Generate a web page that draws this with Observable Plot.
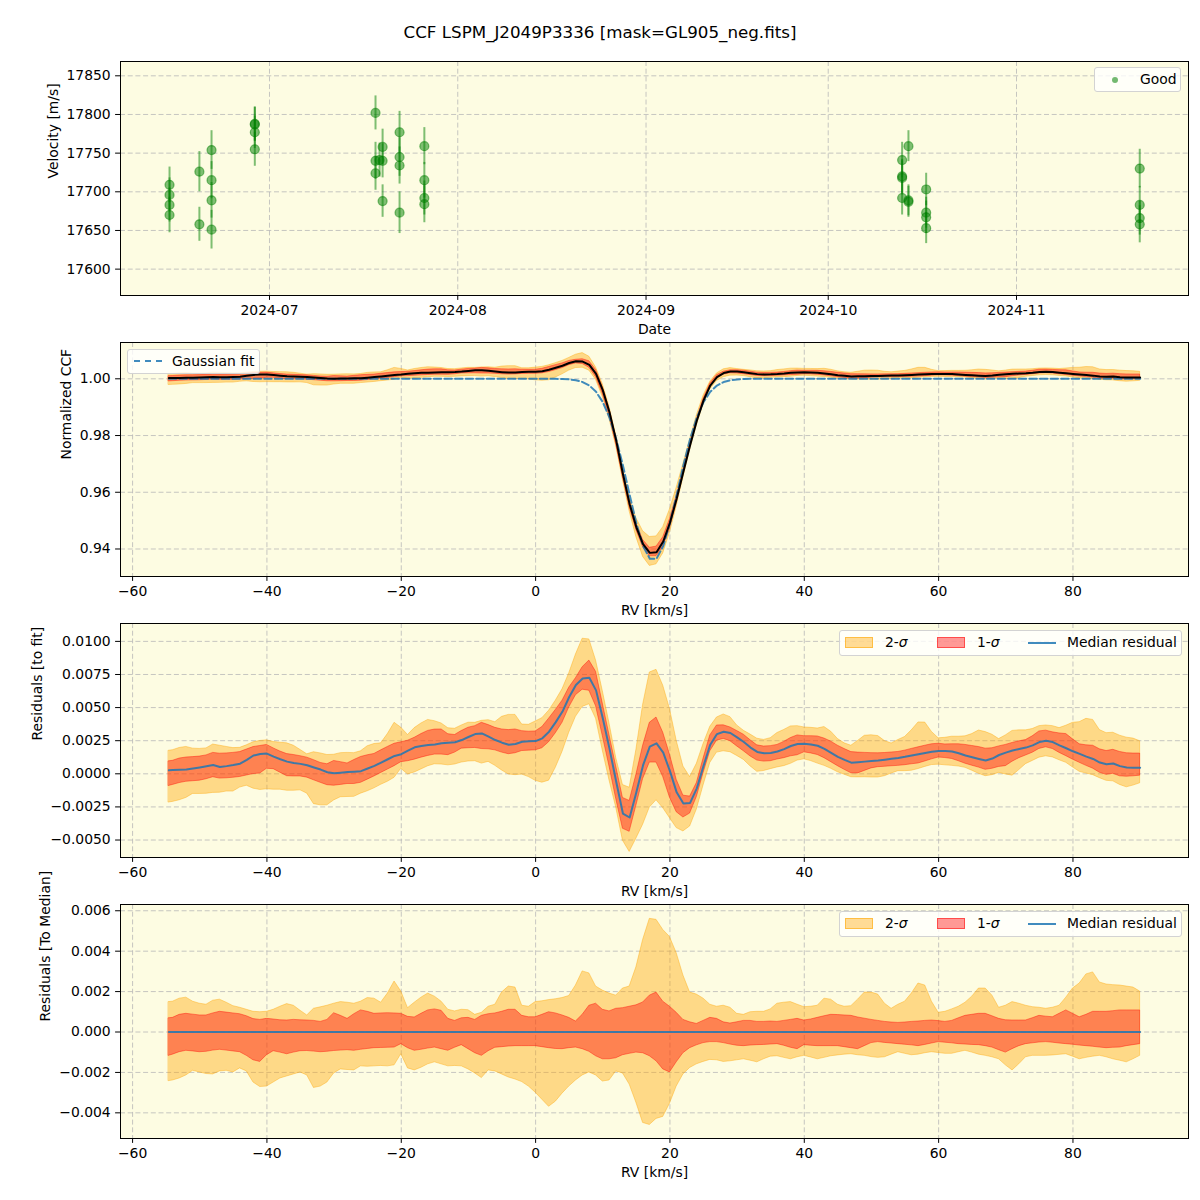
<!DOCTYPE html>
<html><head><meta charset="utf-8">
<script src="https://cdn.jsdelivr.net/npm/d3@7"></script>
<script src="https://cdn.jsdelivr.net/npm/@observablehq/plot@0.6"></script>
<style>
body{margin:0;background:#fff;font-family:"DejaVu Sans",sans-serif;}
#fig{position:relative;width:1200px;height:1200px;overflow:hidden;}
.panel{position:absolute;left:0;}
.title{position:absolute;top:21px;left:0;width:1200px;text-align:center;font-size:16.7px;line-height:22px;color:#000;}
.legend{position:absolute;background:rgba(255,255,255,0.8);border:1px solid #d3d3d3;border-radius:3px;box-sizing:border-box;font-size:13.9px;color:#000;}
.item{position:absolute;white-space:nowrap;line-height:16px;}
.patch{position:absolute;box-sizing:border-box;}
</style></head>
<body><div id="fig"><div class="title">CCF LSPM_J2049P3336 [mask=GL905_neg.fits]</div></div>
<script>
// ---------------- data: velocity time series ----------------
const obsDate = [
"2024-06-14T13:00Z","2024-06-14T13:00Z","2024-06-14T13:00Z","2024-06-14T13:00Z",
"2024-06-19T11:00Z","2024-06-19T11:00Z",
"2024-06-21T11:00Z","2024-06-21T11:00Z","2024-06-21T11:00Z","2024-06-21T11:00Z",
"2024-06-28T14:00Z","2024-06-28T14:00Z","2024-06-28T14:00Z","2024-06-28T14:00Z",
"2024-07-18T11:00Z","2024-07-18T11:00Z","2024-07-18T11:00Z",
"2024-07-19T03:00Z",
"2024-07-19T15:00Z","2024-07-19T15:00Z","2024-07-19T15:00Z",
"2024-07-22T10:00Z","2024-07-22T10:00Z","2024-07-22T10:00Z","2024-07-22T10:00Z",
"2024-07-26T12:00Z","2024-07-26T12:00Z","2024-07-26T12:00Z","2024-07-26T12:00Z",
"2024-10-13T04:00Z","2024-10-13T04:00Z","2024-10-13T04:00Z","2024-10-13T04:00Z",
"2024-10-14T05:00Z","2024-10-14T05:00Z","2024-10-14T05:00Z",
"2024-10-17T03:00Z","2024-10-17T03:00Z","2024-10-17T03:00Z","2024-10-17T03:00Z",
"2024-11-21T07:00Z","2024-11-21T07:00Z","2024-11-21T07:00Z","2024-11-21T07:00Z"];
const velocity = [17709,17696,17683,17670, 17726,17658, 17754,17715,17689,17651,
  17788,17787,17777,17755, 17802,17740,17724, 17741, 17758,17740,17688,
  17777,17745,17734,17673, 17759,17715,17692,17684, 17741,17720,17718,17692,
  17759,17689,17687, 17703,17673,17667,17653, 17730,17683,17666,17658];
const velocityErr = [23,22,22,23, 26,22, 25,24,23,25, 22,22,21,22, 22,24,22, 22, 23,22,21,
  27,25,24,27, 24,23,22,24, 23,22,22,22, 20,20,20, 21,20,21,20, 25,24,22,24];
const dateTicks = ["2024-07-01","2024-08-01","2024-09-01","2024-10-01","2024-11-01"];
const dateDomain = ["2024-06-06T11:15Z","2024-11-29T07:40Z"];
const velTicks = [17600,17650,17700,17750,17800,17850];

// ---------------- data: CCF profile (RV grid, km/s) ----------------
const rv = [-54.6,
-54,-53,-52,-51,-50,-49,-48,-47,-46,-45,
-44,-43,-42,-41,-40,-39,-38,-37,-36,-35,
-34,-33,-32,-31,-30,-29,-28,-27,-26,-25,
-24,-23,-22,-21,-20,-19,-18,-17,-16,-15,
-14,-13,-12,-11,-10,-9,-8,-7,-6,-5,
-4,-3,-2,-1,0,1,2,3,4,5,
6,7,8,9,10,11,12,13,14,15,
16,17,18,19,20,21,22,23,24,25,
26,27,28,29,30,31,32,33,34,35,
36,37,38,39,40,41,42,43,44,45,
46,47,48,49,50,51,52,53,54,55,
56,57,58,59,60,61,62,63,64,65,
66,67,68,69,70,71,72,73,74,75,
76,77,78,79,80,81,82,83,84,85,
86,87,88,89,90];
// Gaussian fit of the CCF
const gaussFit = [1,
1,1,1,1,1,1,1,1,1,1,
1,1,1,1,1,1,1,1,1,1,
1,1,1,1,1,1,1,1,1,1,
1,1,1,1,1,1,1,1,1,1,
1,1,1,1,1,1,1,1,1,1,
1,1,1,1,1,1,1,1,.99992,.99979,
.99949,.99886,.99763,.99543,.99180,.98632,.97880,.96945,.95908,.94906,
.94105,.93658,.93658,.94105,.94906,.95908,.96945,.97880,.98632,.99180,
.99543,.99763,.99886,.99949,.99979,.99992,1,1,1,1,
1,1,1,1,1,1,1,1,1,1,
1,1,1,1,1,1,1,1,1,1,
1,1,1,1,1,1,1,1,1,1,
1,1,1,1,1,1,1,1,1,1,
1,1,1,1,1,1,1,1,1,1,
1,1,1,1,1];
// median residual (CCF - fit)
const medianResid = [.00026,
.00028,.00030,.00033,.00040,.00048,.00057,.00066,.00052,.00058,.00066,
.00076,.00105,.00138,.00150,.00153,.00130,.00110,.00092,.00082,.00075,
.00065,.00048,.00032,.00012,.00004,.00008,.00013,.00016,.00020,.00040,
.00060,.00085,.00110,.00135,.00148,.00175,.00200,.00210,.00217,.00222,
.00230,.00234,.00238,.00255,.00278,.00300,.00305,.00280,.00255,.00235,
.00220,.00225,.00242,.00245,.00247,.00268,.00318,.00390,.00470,.00580,
.00670,.00720,.00725,.00630,.00420,.00190,-.00060,-.00300,-.00330,-.00140,
.00065,.00205,.00230,.00160,.00020,-.00140,-.00225,-.00220,-.00110,.00060,
.00220,.00300,.00318,.00308,.00275,.00240,.00198,.00165,.00156,.00157,
.00168,.00186,.00210,.00225,.00227,.00222,.00212,.00188,.00158,.00128,
.00105,.00084,.00088,.00092,.00096,.00100,.00107,.00114,.00120,.00128,
.00138,.00148,.00157,.00166,.00173,.00172,.00168,.00155,.00138,.00125,
.00112,.00100,.00115,.00142,.00160,.00176,.00188,.00198,.00215,.00240,
.00250,.00240,.00215,.00193,.00170,.00150,.00130,.00112,.00085,.00072,
.00078,.00058,.00048,.00046,.00046];
// band edges relative to the median residual
const upper2 = [.00148,
.00150,.00165,.00170,.00150,.00140,.00135,.00155,.00160,.00145,.00128,
.00120,.00110,.00100,.00098,.00100,.00110,.00125,.00138,.00130,.00105,
.00082,.00115,.00122,.00130,.00140,.00148,.00145,.00140,.00150,.00168,
.00165,.00145,.00190,.00250,.00200,.00118,.00145,.00170,.00190,.00175,
.00150,.00110,.00102,.00110,.00108,.00085,.00095,.00125,.00135,.00195,
.00225,.00220,.00130,.00125,.00148,.00152,.00158,.00162,.00168,.00178,
.00230,.00300,.00290,.00225,.00205,.00190,.00180,.00215,.00225,.00320,
.00455,.00560,.00555,.00505,.00470,.00390,.00280,.00195,.00185,.00165,
.00135,.00125,.00130,.00120,.00090,.00085,.00098,.00100,.00100,.00112,
.00140,.00145,.00148,.00135,.00123,.00125,.00130,.00165,.00160,.00135,
.00125,.00128,.00160,.00195,.00195,.00185,.00140,.00115,.00135,.00150,
.00190,.00240,.00230,.00150,.00095,.00100,.00112,.00125,.00145,.00175,
.00215,.00215,.00180,.00120,.00130,.00148,.00140,.00130,.00123,.00120,
.00115,.00120,.00130,.00170,.00215,.00240,.00285,.00295,.00245,.00235,
.00232,.00230,.00225,.00220,.00200];
const upper1 = [.00068,
.00070,.00085,.00090,.00086,.00082,.00082,.00092,.00100,.00096,.00092,
.00088,.00078,.00064,.00060,.00065,.00062,.00058,.00057,.00060,.00058,
.00057,.00055,.00050,.00060,.00093,.00080,.00065,.00088,.00107,.00100,
.00090,.00092,.00093,.00092,.00090,.00075,.00072,.00090,.00107,.00112,
.00105,.00065,.00055,.00068,.00070,.00060,.00080,.00088,.00092,.00100,
.00110,.00110,.00080,.00073,.00073,.00085,.00098,.00092,.00082,.00070,
.00052,.00085,.00130,.00140,.00110,.00102,.00115,.00118,.00125,.00132,
.00146,.00180,.00195,.00150,.00125,.00095,.00060,.00048,.00040,.00055,
.00070,.00065,.00048,.00042,.00048,.00055,.00055,.00050,.00050,.00052,
.00050,.00055,.00060,.00065,.00057,.00062,.00070,.00078,.00085,.00084,
.00082,.00080,.00072,.00066,.00060,.00055,.00050,.00047,.00045,.00047,
.00050,.00052,.00055,.00057,.00054,.00050,.00055,.00068,.00080,.00085,
.00090,.00090,.00078,.00065,.00058,.00057,.00057,.00057,.00068,.00080,
.00076,.00073,.00090,.00107,.00090,.00073,.00085,.00100,.00100,.00100,
.00103,.00107,.00107,.00107,.00107];
const lower1 = [-.00118,
-.00112,-.00100,-.00093,-.00096,-.00100,-.00098,-.00092,-.00088,-.00092,-.00096,
-.00100,-.00118,-.00140,-.00148,-.00115,-.00095,-.00102,-.00110,-.00102,-.00095,
-.00094,-.00097,-.00100,-.00098,-.00094,-.00092,-.00090,-.00093,-.00088,-.00084,
-.00080,-.00079,-.00078,-.00077,-.00060,-.00080,-.00093,-.00088,-.00082,-.00077,
-.00085,-.00093,-.00078,-.00065,-.00085,-.00105,-.00118,-.00095,-.00078,-.00075,
-.00072,-.00070,-.00070,-.00070,-.00070,-.00075,-.00080,-.00084,-.00085,-.00080,
-.00077,-.00085,-.00098,-.00120,-.00135,-.00135,-.00130,-.00115,-.00108,-.00102,
-.00105,-.00120,-.00145,-.00185,-.00200,-.00150,-.00105,-.00080,-.00066,-.00055,
-.00050,-.00050,-.00055,-.00062,-.00068,-.00070,-.00067,-.00065,-.00064,-.00062,
-.00060,-.00068,-.00078,-.00085,-.00065,-.00068,-.00070,-.00070,-.00070,-.00070,
-.00075,-.00080,-.00085,-.00070,-.00055,-.00050,-.00054,-.00057,-.00060,-.00063,
-.00066,-.00070,-.00064,-.00057,-.00050,-.00053,-.00056,-.00060,-.00062,-.00064,
-.00065,-.00070,-.00077,-.00090,-.00102,-.00085,-.00070,-.00060,-.00056,-.00052,
-.00050,-.00053,-.00057,-.00060,-.00063,-.00067,-.00070,-.00073,-.00077,-.00080,
-.00078,-.00077,-.00070,-.00065,-.00060];
const lower2 = [-.00243,
-.00240,-.00230,-.00215,-.00192,-.00200,-.00208,-.00210,-.00195,-.00192,-.00200,
-.00180,-.00195,-.00250,-.00272,-.00270,-.00250,-.00230,-.00220,-.00210,-.00200,
-.00215,-.00277,-.00270,-.00250,-.00205,-.00185,-.00188,-.00190,-.00170,-.00172,
-.00170,-.00168,-.00170,-.00165,-.00110,-.00180,-.00190,-.00177,-.00160,-.00150,
-.00160,-.00170,-.00168,-.00170,-.00185,-.00205,-.00228,-.00190,-.00195,-.00210,
-.00225,-.00235,-.00248,-.00270,-.00300,-.00335,-.00370,-.00345,-.00305,-.00270,
-.00240,-.00215,-.00200,-.00215,-.00245,-.00240,-.00195,-.00205,-.00260,-.00350,
-.00450,-.00460,-.00430,-.00420,-.00355,-.00270,-.00210,-.00178,-.00160,-.00148,
-.00138,-.00140,-.00148,-.00145,-.00140,-.00135,-.00142,-.00150,-.00135,-.00122,
-.00120,-.00128,-.00135,-.00125,-.00118,-.00126,-.00135,-.00128,-.00120,-.00116,
-.00112,-.00110,-.00115,-.00118,-.00124,-.00128,-.00125,-.00112,-.00100,-.00108,
-.00115,-.00112,-.00105,-.00100,-.00104,-.00108,-.00108,-.00100,-.00093,-.00102,
-.00112,-.00118,-.00125,-.00135,-.00165,-.00190,-.00160,-.00125,-.00118,-.00118,
-.00118,-.00116,-.00113,-.00110,-.00122,-.00135,-.00128,-.00122,-.00118,-.00125,
-.00135,-.00142,-.00150,-.00135,-.00118];
const rvTicks = [-60,-40,-20,0,20,40,60,80];
const ccfTicks = [0.94,0.96,0.98,1.00];
const fitResTicks = [-0.005,-0.0025,0,0.0025,0.005,0.0075,0.01];
const medResTicks = [-0.004,-0.002,0,0.002,0.004,0.006];

// ---------------- build tables ----------------
const obs = velocity.map((v, i) => ({date: new Date(obsDate[i]), v, lo: v - velocityErr[i], hi: v + velocityErr[i]}));
const rows = rv.map((x, i) => {
  const m = medianResid[i], g = gaussFit[i];
  return {
    rv: x, fit: g, ccf: g + m,
    c2lo: g + m + lower2[i], c2hi: g + m + upper2[i], c1lo: g + m + lower1[i], c1hi: g + m + upper1[i],
    med: m, r2lo: m + lower2[i], r2hi: m + upper2[i], r1lo: m + lower1[i], r1hi: m + upper1[i],
    zero: m - m, d2lo: lower2[i], d2hi: upper2[i], d1lo: lower1[i], d1hi: upper1[i]
  };
});

// ---------------- styling ----------------
const BG = "#fdfce2", GRID = "#b8b8b8", FS = 13.9, TS = 4.9, TP = 4.9;
const FRAME_TOPS = [61, 342, 623, 904];
const common = () => ({
  width: 1200, height: 300, marginLeft: 120, marginRight: 12, marginTop: 20, marginBottom: 46,
  style: {background: "transparent", overflow: "visible", fontFamily: "DejaVu Sans, sans-serif", fontSize: FS + "px", color: "#000"}
});
const gridMarks = (xt, yt) => [
  Plot.frame({fill: BG}),
  Plot.ruleX(xt, {stroke: GRID, strokeWidth: 0.8, strokeDasharray: "5,2.7"}),
  Plot.ruleY(yt, {stroke: GRID, strokeWidth: 0.8, strokeDasharray: "5,2.7"})
];
const labels = (ylab, dxl, xlab) => [
  Plot.frame({stroke: "#000", strokeWidth: 1}),
  Plot.text([ylab], {text: d => d, frameAnchor: "left", dx: dxl, rotate: -90, fontSize: FS}),
  Plot.text([xlab], {text: d => d, frameAnchor: "bottom", dy: 38.5, fontSize: FS})
];
const fmtInt = d3.format("d");
const rvX = {domain: [-61.8, 97.2], ticks: rvTicks, tickFormat: fmtInt, tickSize: TS, tickPadding: TP, label: null};
const bands = (lo2, hi2, lo1, hi1) => [
  Plot.areaY(rows, {x: "rv", y1: lo2, y2: hi2, fill: "orange", fillOpacity: 0.4, stroke: "orange", strokeOpacity: 0.4, strokeWidth: 1}),
  Plot.areaY(rows, {x: "rv", y1: lo1, y2: hi1, fill: "red", fillOpacity: 0.4, stroke: "red", strokeOpacity: 0.4, strokeWidth: 1})
];

const fig = document.getElementById("fig");
function place(svg, i) {
  const d = document.createElement("div");
  d.className = "panel";
  d.style.top = (FRAME_TOPS[i] - 20) + "px";
  d.appendChild(svg);
  fig.appendChild(d);
}

// Panel 1: velocities
const dTicks = dateTicks.map(s => new Date(s + "T00:00Z"));
place(Plot.plot({
  ...common(),
  x: {type: "utc", domain: dateDomain.map(s => new Date(s)), ticks: dTicks, tickFormat: d3.utcFormat("%Y-%m"), tickSize: TS, tickPadding: TP, label: null},
  y: {domain: [17565.9, 17868.5], ticks: velTicks, tickFormat: fmtInt, tickSize: TS, tickPadding: TP, label: null},
  marks: [
    ...gridMarks(dTicks, velTicks),
    Plot.ruleX(obs, {x: "date", y1: "lo", y2: "hi", stroke: "green", strokeOpacity: 0.5, strokeWidth: 2}),
    Plot.dot(obs, {x: "date", y: "v", r: 4.5, fill: "green", fillOpacity: 0.5, stroke: "green", strokeOpacity: 0.5, strokeWidth: 1.2}),
    ...labels("Velocity [m/s]", -67, "Date")
  ]
}), 0);

// Panel 2: CCF
place(Plot.plot({
  ...common(),
  x: rvX,
  y: {domain: [0.9303, 1.0128], ticks: ccfTicks, tickFormat: d3.format(".2f"), tickSize: TS, tickPadding: TP, label: null},
  marks: [
    ...gridMarks(rvTicks, ccfTicks),
    ...bands("c2lo", "c2hi", "c1lo", "c1hi"),
    Plot.lineY(rows, {x: "rv", y: "fit", stroke: "#1f77b4", strokeOpacity: 0.85, strokeWidth: 2, strokeDasharray: "7.4,3.2"}),
    Plot.lineY(rows, {x: "rv", y: "ccf", stroke: "#000", strokeWidth: 2}),
    ...labels("Normalized CCF", -54, "RV [km/s]")
  ]
}), 1);

// Panel 3: residuals to fit
place(Plot.plot({
  ...common(),
  x: rvX,
  y: {domain: [-0.00632, 0.01135], ticks: fitResTicks, tickFormat: d3.format(".4f"), tickSize: TS, tickPadding: TP, label: null},
  marks: [
    ...gridMarks(rvTicks, fitResTicks),
    ...bands("r2lo", "r2hi", "r1lo", "r1hi"),
    Plot.lineY(rows, {x: "rv", y: "med", stroke: "#1f77b4", strokeOpacity: 0.85, strokeWidth: 2}),
    ...labels("Residuals [to fit]", -83, "RV [km/s]")
  ]
}), 2);

// Panel 4: residuals to median
place(Plot.plot({
  ...common(),
  x: rvX,
  y: {domain: [-0.00527, 0.00631], ticks: medResTicks, tickFormat: d3.format(".3f"), tickSize: TS, tickPadding: TP, label: null},
  marks: [
    ...gridMarks(rvTicks, medResTicks),
    ...bands("d2lo", "d2hi", "d1lo", "d1hi"),
    Plot.lineY(rows, {x: "rv", y: "zero", stroke: "#1f77b4", strokeOpacity: 0.85, strokeWidth: 2}),
    ...labels("Residuals [To Median]", -75, "RV [km/s]")
  ]
}), 3);

// ---------------- legends (HTML overlays) ----------------
function legend(left, top, w, h, items) {
  const b = document.createElement("div");
  b.className = "legend";
  Object.assign(b.style, {left: left + "px", top: top + "px", width: w + "px", height: h + "px"});
  for (const it of items) {
    const e = document.createElement("div");
    if (it.html != null) { e.className = "item"; e.innerHTML = it.html; }
    else { e.className = "patch"; Object.assign(e.style, it.style); }
    e.style.left = it.x + "px"; e.style.top = it.y + "px";
    b.appendChild(e);
  }
  fig.appendChild(b);
}
legend(1094, 67, 87, 25, [
  {x: 17, y: 9, style: {width: "6px", height: "6px", borderRadius: "50%", background: "rgba(0,128,0,0.55)"}},
  {x: 45, y: 3, html: "Good"}
]);
legend(127, 349, 133, 25, [
  {x: 6, y: 10, style: {width: "28px", height: "0px", borderTop: "2px dashed rgba(31,119,180,0.85)"}},
  {x: 44, y: 3, html: "Gaussian fit"}
]);
const sigLegend = (top) => legend(839, top, 343, 26, [
  {x: 5, y: 6, style: {width: "28px", height: "11px", background: "rgba(255,165,0,0.4)", border: "1px solid rgba(255,165,0,0.55)"}},
  {x: 45, y: 3, html: "2-<i>σ</i>"},
  {x: 97, y: 6, style: {width: "28px", height: "11px", background: "rgba(255,0,0,0.4)", border: "1px solid rgba(255,0,0,0.5)"}},
  {x: 137, y: 3, html: "1-<i>σ</i>"},
  {x: 188, y: 11, style: {width: "28px", height: "2px", background: "rgba(31,119,180,0.85)"}},
  {x: 227, y: 3, html: "Median residual"}
]);
sigLegend(630);
sigLegend(911);
</script></body></html>
